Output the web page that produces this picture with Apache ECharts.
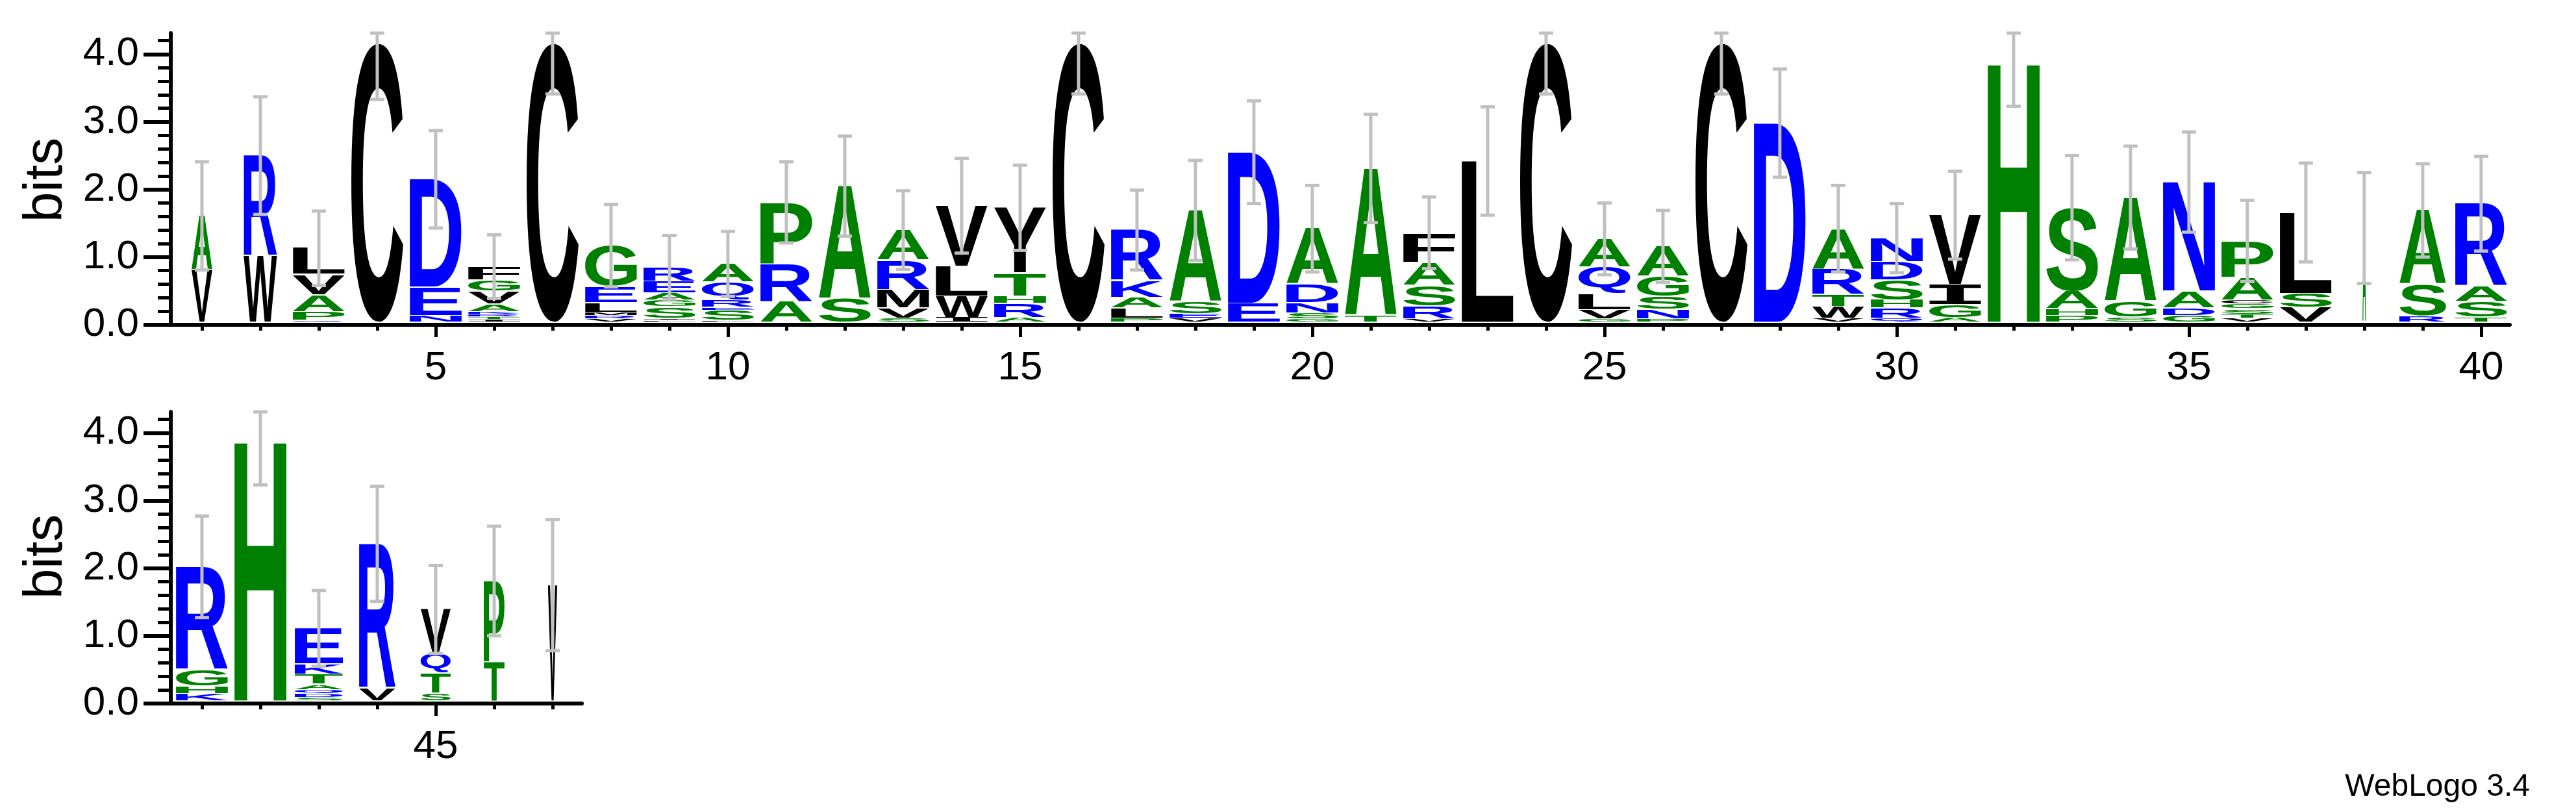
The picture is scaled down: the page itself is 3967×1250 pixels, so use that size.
<!DOCTYPE html>
<html>
<head>
<meta charset="utf-8">
<script src="https://cdn.jsdelivr.net/npm/echarts@6/dist/echarts.min.js"></script>
<style>
  html, body { margin: 0; padding: 0; background: #fff; }
  #chart { width: 3967px; height: 1250px; }
</style>
</head>
<body>
<div id="chart"></div>
<script>
// sequence logo columns, letters listed bottom -> top with their height in bits
const positions = [1, 2, 3, 4, 5, 6, 7, 8, 9, 10, 11, 12, 13, 14, 15, 16, 17, 18, 19, 20,
  21, 22, 23, 24, 25, 26, 27, 28, 29, 30, 31, 32, 33, 34, 35, 36, 37, 38, 39, 40,
  41, 42, 43, 44, 45, 46, 47];

const stacks = [
  [['V', 0.78], ['A', 0.8]],
  [['W', 0.98], ['R', 1.49]],
  [['Q', 0.03], ['P', 0.13], ['A', 0.25], ['V', 0.3], ['L', 0.39]],
  [['C', 4.13]],
  [['N', 0.1], ['E', 0.42], ['D', 1.6]],
  [['I', 0.04], ['T', 0.04], ['R', 0.04], ['K', 0.04], ['A', 0.11], ['V', 0.19], ['G', 0.17], ['F', 0.2]],
  [['C', 4.13]],
  [['V', 0.05], ['R', 0.05], ['M', 0.05], ['L', 0.14], ['E', 0.24], ['G', 0.61]],
  [['L', 0.03], ['I', 0.03], ['S', 0.17], ['G', 0.1], ['A', 0.11], ['E', 0.17], ['R', 0.21]],
  [['L', 0.03], ['S', 0.15], ['E', 0.04], ['R', 0.11], ['Q', 0.27], ['A', 0.27]],
  [['A', 0.31], ['R', 0.56], ['P', 0.91]],
  [['S', 0.35], ['A', 1.67]],
  [['S', 0.06], ['V', 0.15], ['M', 0.27], ['R', 0.44], ['A', 0.45]],
  [['I', 0.07], ['W', 0.32], ['L', 0.44], ['V', 0.9]],
  [['A', 0.07], ['R', 0.21], ['H', 0.11], ['T', 0.34], ['Y', 0.97]],
  [['C', 4.13]],
  [['P', 0.06], ['L', 0.15], ['A', 0.16], ['K', 0.25], ['R', 0.75]],
  [['V', 0.06], ['E', 0.07], ['S', 0.18], ['A', 1.35]],
  [['E', 0.28], ['D', 2.24]],
  [['G', 0.05], ['S', 0.09], ['N', 0.15], ['D', 0.27], ['A', 0.83]],
  [['T', 0.1], ['A', 2.18]],
  [['V', 0.05], ['R', 0.19], ['S', 0.31], ['A', 0.34], ['F', 0.44]],
  [['L', 2.39]],
  [['C', 4.13]],
  [['G', 0.05], ['V', 0.14], ['L', 0.24], ['Q', 0.39], ['A', 0.42]],
  [['P', 0.05], ['N', 0.14], ['S', 0.19], ['G', 0.3], ['A', 0.45]],
  [['C', 4.13]],
  [['D', 2.95]],
  [['V', 0.06], ['W', 0.17], ['T', 0.18], ['R', 0.38], ['A', 0.6]],
  [['Q', 0.06], ['R', 0.15], ['H', 0.12], ['S', 0.3], ['D', 0.27], ['N', 0.35]],
  [['A', 0.07], ['G', 0.19], ['I', 0.3], ['V', 1.03]],
  [['H', 3.84]],
  [['P', 0.1], ['H', 0.1], ['A', 0.26], ['S', 1.24]],
  [['S', 0.08], ['G', 0.23], ['A', 1.54]],
  [['G', 0.1], ['D', 0.11], ['A', 0.25], ['N', 1.62]],
  [['V', 0.06], ['T', 0.06], ['S', 0.08], ['G', 0.07], ['C', 0.06], ['A', 0.34], ['P', 0.54]],
  [['V', 0.22], ['S', 0.21], ['L', 1.2]],
  [['A', 1.4]],
  [['R', 0.09], ['S', 0.47], ['A', 1.1]],
  [['T', 0.08], ['S', 0.23], ['A', 0.22], ['R', 1.23]],
  [['K', 0.11], ['H', 0.11], ['G', 0.24], ['R', 1.53]],
  [['H', 3.85]],
  [['S', 0.05], ['D', 0.06], ['Q', 0.06], ['A', 0.08], ['T', 0.15], ['K', 0.15], ['E', 0.53]],
  [['V', 0.19], ['R', 2.14]],
  [['S', 0.12], ['T', 0.3], ['Q', 0.29], ['V', 0.65]],
  [['T', 0.58], ['P', 1.2]],
  [['V', 1.72]]
];

const errors = [0.8, 0.87, 0.55, 0.83, 0.72, 0.47, 0.75, 0.61, 0.47, 0.48,
  0.6, 0.74, 0.58, 0.7, 0.63, 0.75, 0.59, 0.74, 0.76, 0.64,
  0.8, 0.53, 0.8, 0.75, 0.53, 0.53, 0.75, 0.8, 0.64, 0.51,
  0.65, 0.64, 0.77, 0.76, 0.74, 0.6, 0.73, 0.82, 0.69, 0.7,
  0.75, 0.65, 0.56, 0.85, 0.65, 0.81, 0.97];

// column width as a fraction of full (gapped columns are narrower)
const widths = [0.4, 0.64, 1, 1, 1, 1, 1, 1, 1, 1, 1, 1, 1, 1, 1, 1, 1, 1, 1, 1,
  1, 1, 1, 1, 1, 1, 1, 1, 1, 1, 1, 1, 1, 1, 1, 1, 1, 0.07, 0.9, 1,
  1, 1, 0.93, 0.7, 0.58, 0.4, 0.18];

const topTicks = [1, 2, 3, 4, 5, 6, 7, 8, 9, 10, 11, 12, 13, 14, 15, 16, 17, 18, 19, 20,
  21, 22, 23, 24, 25, 26, 27, 28, 29, 30, 31, 32, 33, 34, 35, 36, 37, 38, 39, 40];
const topLabels = [5, 10, 15, 20, 25, 30, 35, 40];
const bottomTicks = [41, 42, 43, 44, 45, 46, 47];
const bottomLabels = [45];
const yMajor = [0, 1, 2, 3, 4];
const yMinor = [0.2, 0.4, 0.6, 0.8, 1.2, 1.4, 1.6, 1.8, 2.2, 2.4, 2.6, 2.8, 3.2, 3.4, 3.6, 3.8, 4.2];
const Y_MAX = 4.31;

const ALPHA = 'ACDEFGHIKLMNPQRSTVWY';
const FONT = 'bold 200px "Liberation Sans"';
const FONT_I = 'bold 200px "DejaVu Sans Mono"';
const GREEN = '#008000';
const BLUE = '#0000ff';

function letterColor(ch) {
  if ('RKDENQ'.includes(ch)) return BLUE;
  if ('SGHTAP'.includes(ch)) return GREEN;
  return '#000000';
}
function letterFont(ch) {
  return ch === 'I' ? FONT_I : FONT;
}

const measureCtx = document.createElement('canvas').getContext('2d');
const metricCache = {};
function glyphBox(ch) {
  if (!metricCache[ch]) {
    measureCtx.font = letterFont(ch);
    measureCtx.textAlign = 'center';
    measureCtx.textBaseline = 'middle';
    const m = measureCtx.measureText(ch);
    metricCache[ch] = {
      L: m.actualBoundingBoxLeft, R: m.actualBoundingBoxRight,
      A: m.actualBoundingBoxAscent, D: m.actualBoundingBoxDescent
    };
  }
  return metricCache[ch];
}

const letterData = [[], []];
const errorData = [[], []];
positions.forEach((pos, i) => {
  const g = pos <= 40 ? 0 : 1;
  let y = 0.03;
  stacks[i].forEach(([ch, bits]) => {
    letterData[g].push([pos, y, y + bits, ALPHA.indexOf(ch), widths[i]]);
    y += bits;
  });
  errorData[g].push([pos, y, errors[i]]);
});

function renderLetter(params, api) {
  const pos = api.value(0);
  const ch = ALPHA[api.value(3)];
  const unit = api.size([1, 0])[0];
  const w = unit * 0.89 * api.value(4);
  const cx = api.coord([pos, 0])[0];
  const top = api.coord([pos, api.value(2)])[1];
  const bottom = api.coord([pos, api.value(1)])[1];
  const h = bottom - top - 1.5;
  if (h < 0.6) return null;
  const b = glyphBox(ch);
  const sx = w / (b.L + b.R);
  const sy = h / (b.A + b.D);
  return {
    type: 'text',
    x: cx - w / 2 + b.L * sx,
    y: top + b.A * sy,
    scaleX: sx,
    scaleY: sy,
    silent: true,
    style: { text: ch, font: letterFont(ch), fill: letterColor(ch), align: 'center', verticalAlign: 'middle' }
  };
}

function renderError(params, api) {
  const pos = api.value(0);
  const topVal = api.value(1);
  const err = api.value(2);
  const cx = api.coord([pos, 0])[0];
  const yHi = api.coord([pos, Math.min(topVal + err, Y_MAX)])[1];
  const yLo = api.coord([pos, topVal - err])[1];
  const style = { stroke: '#c0c0c0', lineWidth: 5 };
  const cap = 11;
  return {
    type: 'group',
    children: [
      { type: 'line', shape: { x1: cx, y1: yHi, x2: cx, y2: yLo }, style },
      { type: 'line', shape: { x1: cx - cap, y1: yHi, x2: cx + cap, y2: yHi }, style },
      { type: 'line', shape: { x1: cx - cap, y1: yLo, x2: cx + cap, y2: yLo }, style }
    ]
  };
}

const labelFont = { fontFamily: 'Liberation Sans', fontSize: 62, color: '#000' };

function xAxes(gridIndex, min, max, ticks, labels) {
  return [
    {
      type: 'value', gridIndex, min, max, position: 'bottom',
      axisLine: { show: true, onZero: false, lineStyle: { color: '#000', width: 6 } },
      axisTick: { show: true, customValues: ticks, length: 9, lineStyle: { color: '#000', width: 5 } },
      axisLabel: { show: false },
      splitLine: { show: false }
    },
    {
      type: 'value', gridIndex, min, max, position: 'bottom', offset: 0,
      axisLine: { show: false },
      axisTick: { show: true, customValues: labels, length: 19, lineStyle: { color: '#000', width: 5 } },
      axisLabel: { show: true, customValues: labels, margin: 36, ...labelFont },
      splitLine: { show: false }
    }
  ];
}

function yAxes(gridIndex) {
  return [
    {
      type: 'value', gridIndex, min: 0, max: Y_MAX, position: 'left',
      axisLine: { show: true, onZero: false, lineStyle: { color: '#000', width: 6 } },
      axisTick: { show: true, customValues: yMajor, length: 42, lineStyle: { color: '#000', width: 6 } },
      axisLabel: { show: true, customValues: yMajor, margin: 49, formatter: v => v.toFixed(1), ...labelFont },
      splitLine: { show: false }
    },
    {
      type: 'value', gridIndex, min: 0, max: Y_MAX, position: 'left', offset: 0,
      axisLine: { show: false },
      axisTick: { show: true, customValues: yMinor, length: 20, lineStyle: { color: '#000', width: 5 } },
      axisLabel: { show: false },
      splitLine: { show: false }
    }
  ];
}

const chart = echarts.init(document.getElementById('chart'), null, { renderer: 'canvas' });
chart.setOption({
  animation: false,
  backgroundColor: '#fff',
  grid: [
    { left: 263, top: 51, width: 3602, height: 449, outerBoundsMode: 'none', containLabel: false },
    { left: 263, top: 634, width: 633, height: 449, outerBoundsMode: 'none', containLabel: false }
  ],
  xAxis: [...xAxes(0, 0.467, 40.49, topTicks, topLabels), ...xAxes(1, 40.467, 47.5, bottomTicks, bottomLabels)],
  yAxis: [...yAxes(0), ...yAxes(1)],
  graphic: [
    { type: 'text', x: 72, y: 277, rotation: Math.PI / 2,
      style: { text: 'bits', font: '84px "Liberation Sans"', fill: '#000', align: 'center', verticalAlign: 'middle' } },
    { type: 'text', x: 72, y: 857, rotation: Math.PI / 2,
      style: { text: 'bits', font: '84px "Liberation Sans"', fill: '#000', align: 'center', verticalAlign: 'middle' } },
    { type: 'text', x: 3896, y: 1212,
      style: { text: 'WebLogo 3.4', font: '48px "Liberation Sans"', fill: '#000', align: 'right', verticalAlign: 'middle' } }
  ],
  series: [
    { type: 'custom', xAxisIndex: 0, yAxisIndex: 0, clip: false, renderItem: renderLetter, data: letterData[0], z: 2 },
    { type: 'custom', xAxisIndex: 0, yAxisIndex: 0, clip: false, renderItem: renderError, data: errorData[0], z: 3 },
    { type: 'custom', xAxisIndex: 2, yAxisIndex: 2, clip: false, renderItem: renderLetter, data: letterData[1], z: 2 },
    { type: 'custom', xAxisIndex: 2, yAxisIndex: 2, clip: false, renderItem: renderError, data: errorData[1], z: 3 }
  ]
});
</script>
</body>
</html>
